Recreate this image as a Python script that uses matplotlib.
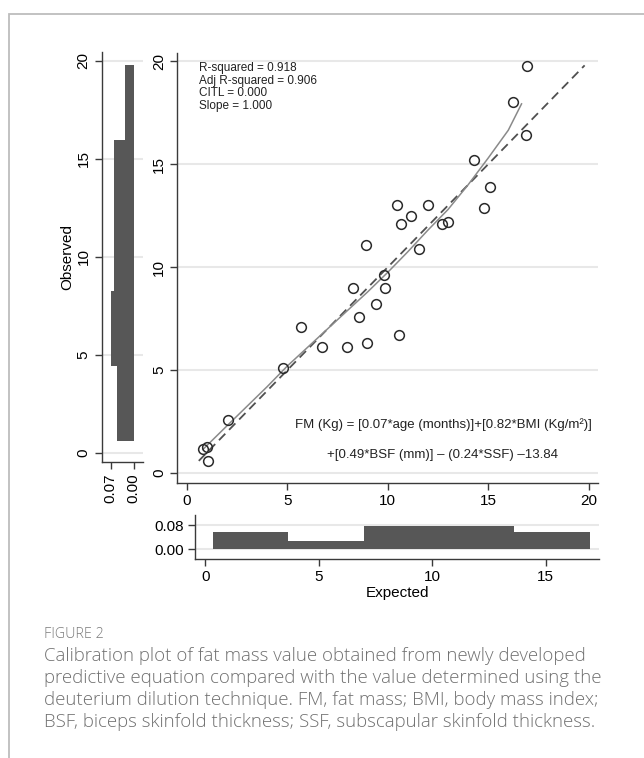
import numpy as np
import matplotlib.pyplot as plt
from matplotlib.patches import Rectangle

# calibration points
expected = [0.83, 0.995, 1.07, 2.05, 4.79, 5.67, 6.75, 7.99, 8.29, 8.57,
            8.94, 8.96, 9.42, 9.82, 9.88, 10.45, 10.56, 10.68, 11.14, 11.57,
            12.0, 12.69, 13.0, 14.27, 14.81, 15.07, 16.25, 16.87, 16.93]
observed = [1.18, 1.29, 0.60, 2.58, 5.09, 7.11, 6.12, 6.12, 9.0, 7.59,
            11.10, 6.30, 8.21, 9.60, 9.0, 13.0, 6.70, 12.10, 12.49, 10.89,
            13.0, 12.10, 12.2, 15.19, 12.89, 13.89, 18.01, 16.40, 19.79]

# lowess smoother
lowess_x = [0.8, 2, 3, 4, 5, 6, 7, 8, 9, 10, 11, 12, 13, 14, 15, 16, 16.66]
lowess_y = [1.15, 2.3, 3.25, 4.2, 5.2, 6.1, 7.0, 7.9, 8.8, 9.75, 10.75,
            11.8, 12.8, 14.0, 15.3, 16.65, 17.93]

ref_line = [0.6, 19.8]

# marginal histograms (density)
obs_edges = [0.6, 4.44, 8.28, 12.12, 15.96, 19.8]
obs_dens = [0.051, 0.069, 0.059, 0.059, 0.026]
exp_edges = [0.32, 3.65, 6.98, 10.3, 13.62, 16.95]
exp_dens = [0.058, 0.028, 0.079, 0.079, 0.058]

stats_lines = ["R-squared = 0.918", "Adj R-squared = 0.906",
               "CITL = 0.000", "Slope = 1.000"]
eq_line1 = "FM (Kg) = [0.07*age (months)]+[0.82*BMI (Kg/m\u00b2)]"
eq_line2 = "+[0.49*BSF (mm)] \u2013 (0.24*SSF) \u201313.84"

caption_head = "FIGURE 2"
caption = ("Calibration plot of fat mass value obtained from newly developed\n"
           "predictive equation compared with the value determined using the\n"
           "deuterium dilution technique. FM, fat mass; BMI, body mass index;\n"
           "BSF, biceps skinfold thickness; SSF, subscapular skinfold thickness.")

plt.rcParams['font.family'] = ['Liberation Sans', 'DejaVu Sans']
narrow = ['Liberation Sans Narrow', 'Liberation Sans', 'DejaVu Sans']

W, H = 644, 758
fig = plt.figure(figsize=(W / 100, H / 100), dpi=100)


def box(l, t, r, b):
    return [l / W, 1 - b / H, (r - l) / W, (b - t) / H]


spine_c = '#3a3a3a'
grid_c = '#e8e8e8'
bar_c = '#575757'


def style(ax):
    for s in ['top', 'right']:
        ax.spines[s].set_visible(False)
    for s in ['left', 'bottom']:
        ax.spines[s].set_color(spine_c)
        ax.spines[s].set_linewidth(1.0)
    ax.tick_params(direction='out', length=5, width=1, color=spine_c,
                   labelsize=11, pad=3)
    ax.set_facecolor('none')


# outer frame
fig.patches.append(Rectangle((9 / W, -0.1), 1.2, 1 - 14 / H + 0.1,
                             transform=fig.transFigure, fill=False,
                             edgecolor='#bdbdbd', linewidth=1.3))

# main scatter
ax = fig.add_axes(box(177.3, 53, 598.3, 482.7))
style(ax)
ax.set_xlim(-0.47, 20.48)
ax.set_ylim(-0.46, 20.4)
for yv in [0, 5, 10, 15, 20]:
    ax.axhline(yv, color=grid_c, lw=1.5, zorder=0)
ax.plot(ref_line, ref_line, color='#505050', lw=1.3, ls=(0, (5, 3)))
ax.plot(lowess_x, lowess_y, color='#8a8a8a', lw=1.1)
ax.plot(expected, observed, 'o', mfc='none', mec='#2a2a2a', ms=7, mew=1.1)
ax.set_xticks([0, 5, 10, 15, 20])
ax.set_yticks([0, 5, 10, 15, 20])
plt.setp(ax.get_yticklabels(), rotation=90, va='center')
ax.text(0.63, 19.95, "\n".join(stats_lines), va='top', ha='left',
        fontsize=8.5, family=narrow, linespacing=1.05, color='#222222')
ax.text(12.75, 2.35, eq_line1, ha='center', va='center', fontsize=9.5,
        family=narrow, color='#222222')
ax.text(12.75, 0.9, eq_line2, ha='center', va='center', fontsize=9.5,
        family=narrow, color='#222222')

# left histogram of observed
axl = fig.add_axes(box(101.7, 52, 143, 462))
style(axl)
axl.set_xlim(0.0974, -0.028)
axl.set_ylim(-0.46, 20.44)
for yv in [0, 5, 10, 15, 20]:
    axl.axhline(yv, color=grid_c, lw=1.5, zorder=0)
axl.barh(obs_edges[:-1], obs_dens, height=np.diff(obs_edges), align='edge',
         color=bar_c, linewidth=0)
axl.set_yticks([0, 5, 10, 15, 20])
axl.set_xticks([0.07, 0.0])
axl.set_xticklabels(['0.07', '0.00'], rotation=90)
plt.setp(axl.get_yticklabels(), rotation=90, va='center')
axl.set_ylabel('Observed', fontsize=11, labelpad=2)

# bottom histogram of expected
axb = fig.add_axes(box(195.3, 515, 599.3, 559.3))
style(axb)
axb.set_xlim(-0.44, 17.37)
axb.set_ylim(-0.033, 0.114)
for yv in [0, 0.08]:
    axb.axhline(yv, color=grid_c, lw=1.5, zorder=0)
axb.bar(exp_edges[:-1], exp_dens, width=np.diff(exp_edges), align='edge',
        color=bar_c, linewidth=0)
axb.set_xticks([0, 5, 10, 15])
axb.set_yticks([0, 0.08])
axb.set_yticklabels(['0.00', '0.08'])
axb.set_xlabel('Expected', fontsize=11, labelpad=1)

# caption
cap_font = ['Open Sans', 'DejaVu Sans']
fig.text(44 / W, 1 - 634 / H, caption_head, fontsize=10.3, color='#7a7a7a',
         family=cap_font, va='center', weight='light')
fig.text(44 / W, 1 - 647 / H, caption, fontsize=13.4, color='#707070',
         family=cap_font, va='top', linespacing=1.28, weight='light')

fig.savefig('out.png', dpi=100)
